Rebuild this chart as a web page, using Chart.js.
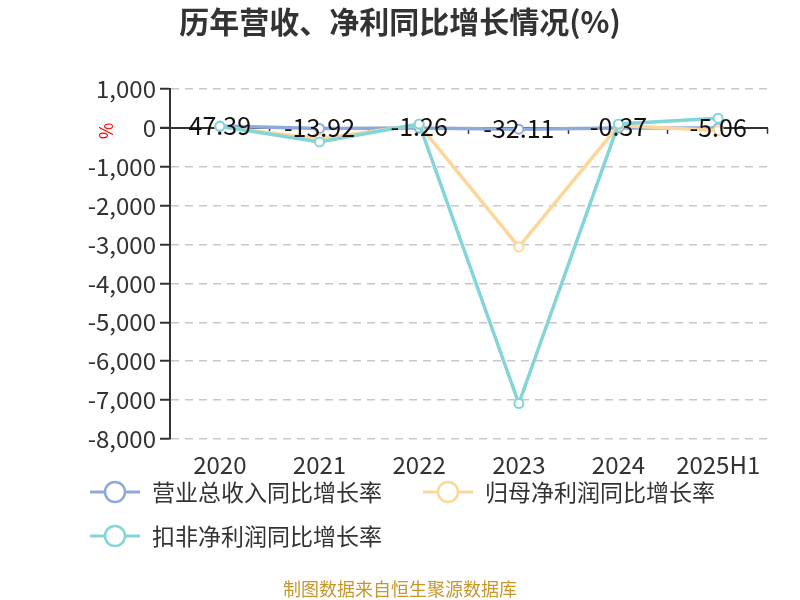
<!DOCTYPE html>
<html>
<head>
<meta charset="utf-8">
<script src="https://cdn.jsdelivr.net/npm/chart.js@4"></script>
<style>
  html, body { margin: 0; padding: 0; background: #fff; }
  #wrap { width: 800px; height: 600px; }
</style>
</head>
<body>
<div id="wrap"><canvas id="chart" width="800" height="600"></canvas></div>
<script>
// data
const years = ['2020', '2021', '2022', '2023', '2024', '2025H1'];
const revenueGrowth = [47.39, -13.92, -1.26, -32.11, -0.37, -5.06];
const netProfitGrowth = [30, -280, 80, -3060, 60, -70];
const deductedProfitGrowth = [40, -360, 100, -7090, 100, 250];
const seriesNames = ['营业总收入同比增长率', '归母净利润同比增长率', '扣非净利润同比增长率'];
const seriesColors = ['#8eaadb', '#fdd69a', '#84d5d9'];
const yTicks = [1000, 0, -1000, -2000, -3000, -4000, -5000, -6000, -7000, -8000];

const FONT = '"Noto Sans CJK SC", "Noto Sans", sans-serif';

// extra drawing: title, zero axis, labels, legend, footer
const extras = {
  id: 'extras',
  beforeDatasetsDraw(chart) {
    const { ctx, chartArea, scales } = chart;
    const y0 = scales.y.getPixelForValue(0);
    ctx.save();
    ctx.strokeStyle = '#333';
    ctx.lineWidth = 2;
    ctx.beginPath();
    ctx.moveTo(chartArea.left - 10, y0);
    ctx.lineTo(chartArea.right, y0);
    ctx.stroke();
    // category boundary ticks
    const step = (chartArea.right - chartArea.left) / years.length;
    ctx.lineWidth = 1.5;
    for (let i = 1; i <= years.length; i++) {
      const x = Math.round(chartArea.left + step * i) - 0.5;
      ctx.beginPath();
      ctx.moveTo(x, y0);
      ctx.lineTo(x, y0 + 6);
      ctx.stroke();
    }
    ctx.restore();
  },
  afterDraw(chart) {
    const { ctx, chartArea, scales } = chart;
    ctx.save();

    // title
    ctx.fillStyle = '#333';
    ctx.font = 'bold 30px ' + FONT;
    ctx.textAlign = 'center';
    ctx.textBaseline = 'middle';
    ctx.fillText('历年营收、净利同比增长情况(%)', 400, 22);

    // y axis name
    ctx.save();
    ctx.translate(106, scales.y.getPixelForValue(0) + 3);
    ctx.rotate(-Math.PI / 2);
    ctx.fillStyle = '#ff0000';
    ctx.font = '18px ' + FONT;
    ctx.fillText('%', 0, 0);
    ctx.restore();

    // value labels for revenue series
    ctx.fillStyle = '#111';
    ctx.font = '25px ' + FONT;
    revenueGrowth.forEach((v, i) => {
      const x = scales.x.getPixelForValue(i);
      const y = scales.y.getPixelForValue(v);
      ctx.fillText(v.toFixed(2), x, y - 1);
    });

    // legend
    const items = [
      { x: 90, y: 492 },
      { x: 423, y: 492 },
      { x: 90, y: 536 }
    ];
    items.forEach((p, i) => {
      ctx.strokeStyle = seriesColors[i];
      ctx.lineWidth = 3;
      ctx.beginPath();
      ctx.moveTo(p.x, p.y);
      ctx.lineTo(p.x + 50, p.y);
      ctx.stroke();
      ctx.beginPath();
      ctx.arc(p.x + 25, p.y, 10, 0, Math.PI * 2);
      ctx.fillStyle = '#fff';
      ctx.fill();
      ctx.lineWidth = 2.5;
      ctx.stroke();
      ctx.fillStyle = '#333';
      ctx.font = '23px ' + FONT;
      ctx.textAlign = 'left';
      ctx.fillText(seriesNames[i], p.x + 62, p.y);
    });

    // footer
    ctx.fillStyle = '#c9962b';
    ctx.font = '18px ' + FONT;
    ctx.textAlign = 'center';
    ctx.fillText('制图数据来自恒生聚源数据库', 400, 589);
    ctx.restore();
  }
};

function makeSet(label, data, color) {
  return {
    label: label,
    data: data,
    borderColor: color,
    backgroundColor: '#fff',
    borderWidth: 3.5,
    pointRadius: 4.5,
    pointBorderWidth: 2,
    pointBackgroundColor: '#fff',
    pointBorderColor: color,
    tension: 0
  };
}

new Chart(document.getElementById('chart'), {
  type: 'line',
  data: {
    labels: years,
    datasets: [
      makeSet(seriesNames[2], deductedProfitGrowth, seriesColors[2]),
      makeSet(seriesNames[1], netProfitGrowth, seriesColors[1]),
      makeSet(seriesNames[0], revenueGrowth, seriesColors[0])
    ]
  },
  options: {
    responsive: false,
    animation: false,
    devicePixelRatio: 1,
    layout: { padding: { left: 0, top: 89, right: 32, bottom: 121 } },
    plugins: {
      legend: { display: false },
      tooltip: { enabled: false }
    },
    scales: {
      x: {
        offset: true,
        grid: { display: false },
        border: { display: false },
        ticks: { color: '#333', font: { size: 24, family: FONT }, padding: 3, maxRotation: 0 },
        afterFit: s => { s.height = 40; }
      },
      y: {
        min: -8000,
        max: 1000,
        afterBuildTicks: s => { s.ticks = yTicks.map(v => ({ value: v })); },
        grid: {
          color: ctx => ctx.tick && ctx.tick.value === 0 ? 'rgba(0,0,0,0)' : '#c8c8c8',
          lineWidth: 1.5,
          drawTicks: true,
          tickLength: 10,
          tickColor: '#333',
          tickWidth: 2
        },
        border: { display: true, color: '#333', width: 2, dash: [8, 6] },
        ticks: {
          color: '#333',
          font: { size: 24, family: FONT },
          padding: 4,
          callback: v => v.toLocaleString('en-US')
        },
        afterFit: s => { s.width = 170; }
      }
    }
  },
  plugins: [extras]
});
</script>
</body>
</html>
